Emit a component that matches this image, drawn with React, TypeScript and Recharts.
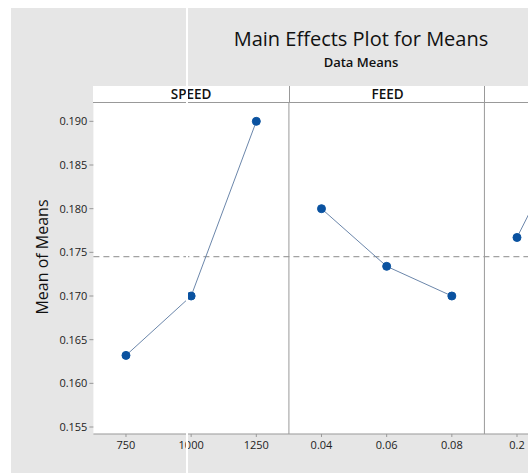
import React from 'react';
import { LineChart, Line, XAxis, YAxis, CartesianGrid, ReferenceLine } from 'recharts';

const factors = ['SPEED', 'FEED', 'DEPTH'];
const speedLevels = ['750', '1000', '1250'];
const speedMeans = [0.1632, 0.17, 0.19];
const feedLevels = ['0.04', '0.06', '0.08'];
const feedMeans = [0.18, 0.1734, 0.17];
const depthLevels = ['0.2', '0.4', '0.6'];
const depthMeans = [0.1767, 0.1915, 0.1553];
const yTicks = [0.155, 0.16, 0.165, 0.17, 0.175, 0.18, 0.185, 0.19];
const grandMean = 0.1745;

const levelLabels = [...speedLevels, ...feedLevels, ...depthLevels];
const series = [speedMeans, feedMeans, depthMeans].map((vals, f) =>
  vals.map((v, i) => ({ x: f * 3 + i, y: v }))
);

const FONT = '"Open Sans", "Noto Sans", sans-serif';
const PLOT_LEFT = 82.4;
const SLOT = 65.17;
const RIGHT = 10;

export default function App() {
  return (
    <div style={{ position: 'fixed', left: 11, top: 8, width: 517, height: 465, background: '#e6e6e6', overflow: 'hidden', fontFamily: FONT }}>
      <div style={{ position: 'absolute', left: 180, width: 340, top: 17, textAlign: 'center', fontSize: 20, color: '#111' }}>
        Main Effects Plot for Means
      </div>
      <div style={{ position: 'absolute', left: 200, width: 300, top: 45, textAlign: 'center', fontSize: 13, fontWeight: 600, color: '#111' }}>
        Data Means
      </div>
      <div style={{ position: 'absolute', left: 31, top: 249, width: 0, height: 0 }}>
        <div style={{ position: 'absolute', transform: 'translate(-50%, -50%) rotate(-90deg)', whiteSpace: 'nowrap', fontSize: 16, color: '#111' }}>
          Mean of Means
        </div>
      </div>
      {/* strip headers */}
      {factors.map((f, i) => (
        <div key={f} style={{
          position: 'absolute', left: PLOT_LEFT + i * 3 * SLOT, top: 78, width: 3 * SLOT, height: 16,
          background: '#fff', borderBottom: '1px solid #999', borderLeft: i > 0 ? '1px solid #999' : 'none',
          boxSizing: 'content-box', textAlign: 'center', fontSize: 13.5, fontWeight: 600, lineHeight: '17px', color: '#111'
        }}>{f}</div>
      ))}
      <div style={{ position: 'absolute', top: 95 }}>
        <LineChart width={PLOT_LEFT + 9 * SLOT + RIGHT} height={370} margin={{ top: 0, right: RIGHT, left: 0, bottom: 9 }}>
          <CartesianGrid fill="#fff" horizontal={false} vertical={false} />
          <XAxis type="number" dataKey="x" domain={[-0.5, 8.5]} ticks={[0, 1, 2, 3, 4, 5, 6, 7, 8]}
            tickFormatter={(v: number) => levelLabels[v]} allowDataOverflow height={30}
            stroke="#999" tickSize={3} tickMargin={4} tick={{ fill: '#222', fontSize: 11, fontFamily: FONT }} />
          <YAxis type="number" domain={[0.1542, 0.1921]} ticks={yTicks} width={PLOT_LEFT}
            tickFormatter={(v: number) => v.toFixed(3)} axisLine={false} stroke="#999" tickSize={4} tickMargin={2}
            tick={{ fill: '#222', fontSize: 11, fontFamily: FONT }} allowDataOverflow />
          <ReferenceLine y={grandMean} stroke="#8a8a8a" strokeDasharray="6 4" />
          <ReferenceLine x={2.5} stroke="#999" />
          <ReferenceLine x={5.5} stroke="#999" />
          {series.map((d, i) => (
            <Line key={i} data={d} dataKey="y" type="linear" stroke="#6a86aa" strokeWidth={1}
              dot={{ r: 4, fill: '#0a52a0', stroke: '#0a52a0', strokeWidth: 1 }} isAnimationActive={false} />
          ))}
        </LineChart>
      </div>
      <div style={{ position: 'absolute', left: 174.5, top: 0, width: 2, height: 465, background: '#fff' }} />
    </div>
  );
}
